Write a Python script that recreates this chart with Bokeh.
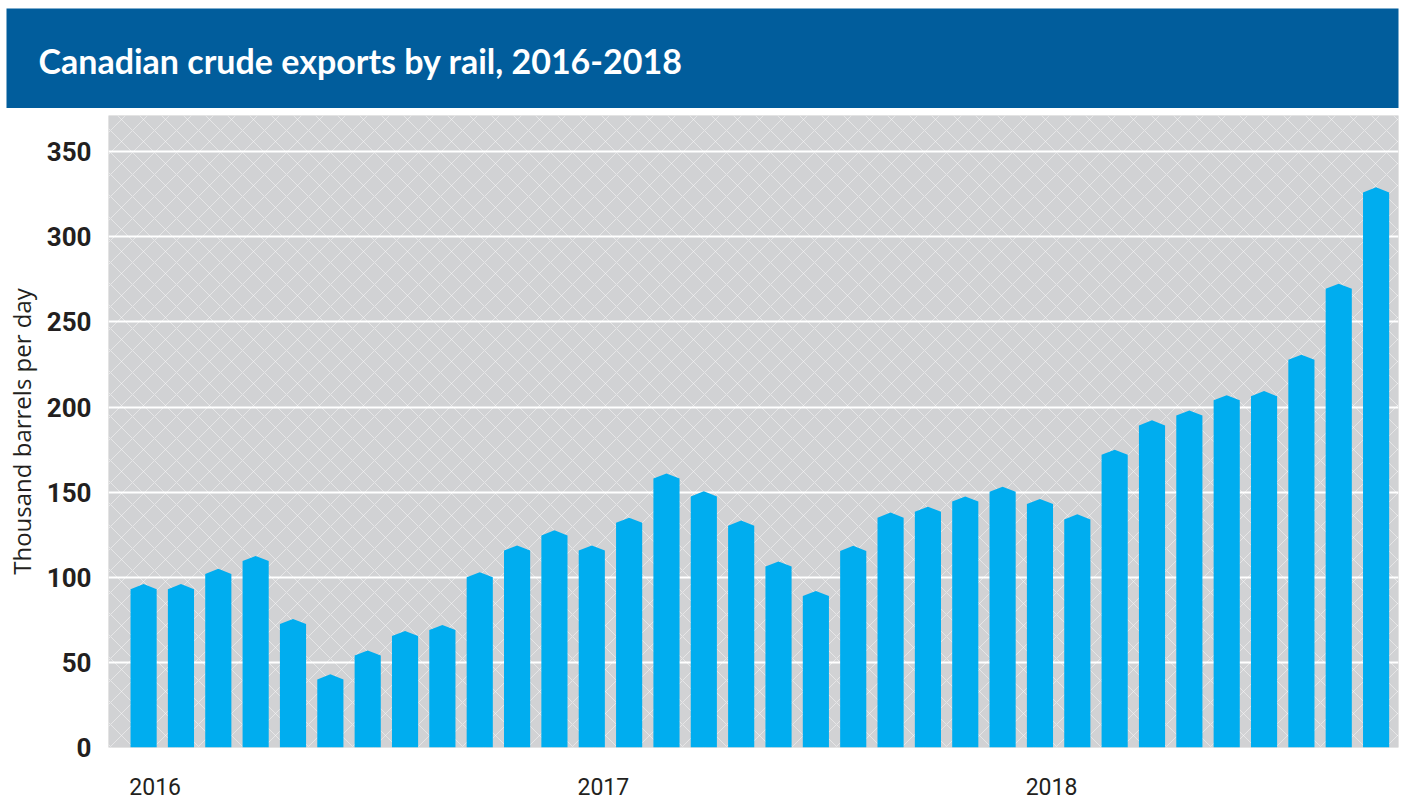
from bokeh.plotting import figure
from bokeh.models import (ColumnDataSource, Range1d, FixedTicker, BoxAnnotation)
from bokeh.layouts import column
from bokeh.core.properties import value
from bokeh.embed import file_html
from bokeh.resources import INLINE

# ---- data ----
title_text = "Canadian crude exports by rail, 2016-2018"
y_title = "Thousand barrels per day"
months = list(range(34))  # Jan 2016 .. Oct 2018
exports = [93, 93, 102, 109.5, 72.5, 40, 54, 65.5, 69, 100, 115.7, 124.6,
           115.7, 132, 158, 147.5, 130.3, 106.3, 89, 115.5, 135, 138.5, 144.5, 150.2,
           143, 134, 172, 189.2, 195, 204, 206.4, 227.8, 269.5, 326.1]
year_ticks = [0, 12, 24]
year_labels = ["2016", "2017", "2018"]
y_ticks = [0, 50, 100, 150, 200, 250, 300, 350]

BAR_BLUE = "#00adef"
HEADER_BLUE = "#015d9c"
TEXT = "#231f20"

# ---- header ----
header = figure(width=1401, height=108, x_range=Range1d(0, 1401), y_range=Range1d(0, 108),
                output_backend="svg", toolbar_location=None,
                min_border=0, min_border_left=0, min_border_right=0,
                min_border_top=0, min_border_bottom=0)
header.frame_align = False
header.axis.visible = False
header.grid.visible = False
header.outline_line_color = None
header.background_fill_color = "white"
header.border_fill_color = "white"
header.quad(left=[6], right=[1398], bottom=[0], top=[100], fill_color=HEADER_BLUE, line_color=None)
header.text(x=[38], y=[48], text=[title_text], text_font=value("Lato"), text_font_style="bold",
            text_font_size="34px", text_color="white", text_baseline="alphabetic", text_align="left")

# ---- main chart ----
p = figure(width=1401, height=691, x_range=Range1d(-0.94, 33.6), y_range=Range1d(0, 371.3),
           output_backend="svg", toolbar_location=None,
           min_border_left=108, min_border_right=3, min_border_top=7, min_border_bottom=52)
p.frame_align = False
p.outline_line_color = None
p.background_fill_color = "#d1d2d4"
p.border_fill_color = "white"

bg = BoxAnnotation(fill_color="#d1d2d4", fill_alpha=1, line_alpha=0,
                   hatch_pattern="diagonal_cross", hatch_color="white", hatch_alpha=0.45,
                   hatch_scale=22, hatch_weight=1, level="image")
p.add_layout(bg)

# bars with pointed caps
half = 0.35
cap = 3.0
xs = [[m - half, m - half, m, m + half, m + half] for m in months]
ys = [[0, v, v + cap, v, 0] for v in exports]
src = ColumnDataSource(dict(xs=xs, ys=ys))
p.patches("xs", "ys", source=src, fill_color=BAR_BLUE, line_color=None)

# grid
p.xgrid.visible = False
p.ygrid.ticker = FixedTicker(ticks=y_ticks[1:])
p.ygrid.grid_line_color = "white"
p.ygrid.grid_line_width = 2
p.ygrid.level = "underlay"

# y axis
p.yaxis.ticker = FixedTicker(ticks=y_ticks)
p.yaxis.axis_line_color = None
p.yaxis.major_tick_line_color = None
p.yaxis.minor_tick_line_color = None
p.yaxis.major_label_text_font = "Roboto"
p.yaxis.major_label_text_font_style = "bold"
p.yaxis.major_label_text_font_size = "26px"
p.yaxis.major_label_text_color = TEXT
p.yaxis.major_label_standoff = 11
p.yaxis.axis_label = y_title
p.yaxis.axis_label_text_font = "Open Sans"
p.yaxis.axis_label_text_font_style = "normal"
p.yaxis.axis_label_text_font_size = "24px"
p.yaxis.axis_label_text_color = TEXT
p.yaxis.axis_label_standoff = 6

# x axis
p.xaxis.ticker = FixedTicker(ticks=[t + 0.31 for t in year_ticks])
p.xaxis.major_label_overrides = {t + 0.31: lab for t, lab in zip(year_ticks, year_labels)}
p.xaxis.axis_line_color = None
p.xaxis.major_tick_line_color = None
p.xaxis.minor_tick_line_color = None
p.xaxis.major_label_text_font = "Roboto"
p.xaxis.major_label_text_font_size = "23px"
p.xaxis.major_label_text_color = TEXT
p.xaxis.major_label_standoff = 24

layout = column(header, p, spacing=0)
open("out.html", "w").write(file_html(layout, INLINE))
